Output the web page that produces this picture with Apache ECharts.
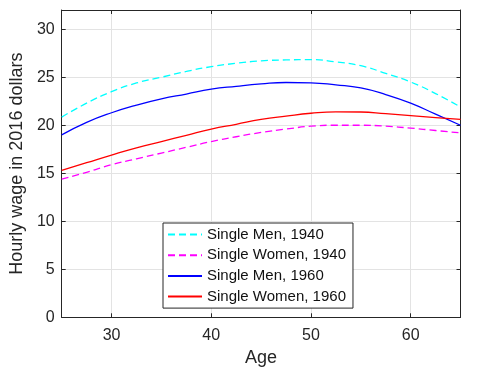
<!DOCTYPE html>
<html>
<head>
<meta charset="utf-8">
<script src="https://cdn.jsdelivr.net/npm/echarts@6/dist/echarts.min.js"></script>
<style>html,body{margin:0;padding:0;background:#fff}#c{width:480px;height:376px}</style>
</head>
<body>
<div id="c"></div>
<script>
var ages = [25, 27.5, 30, 32.5, 35, 37.5, 40, 42.5, 45, 47.5, 50, 52.5, 55, 57.5, 60, 62.5, 65];
var menW1940 = [20.85, 22.3, 23.5, 24.4, 25.0, 25.6, 26.1, 26.45, 26.7, 26.8, 26.83, 26.6, 26.2, 25.4, 24.5, 23.3, 21.9];
var womenW1940 = [14.4, 15.1, 15.9, 16.5, 17.1, 17.7, 18.3, 18.8, 19.25, 19.6, 19.9, 20.0, 20.0, 19.9, 19.7, 19.45, 19.2];
var menW1960 = [19.0, 20.3, 21.3, 22.1, 22.75, 23.25, 23.75, 24.05, 24.3, 24.45, 24.42, 24.2, 23.88, 23.2, 22.3, 21.15, 20.0];
var womenW1960 = [15.3, 16.1, 16.9, 17.65, 18.3, 18.95, 19.6, 20.1, 20.6, 20.95, 21.25, 21.4, 21.38, 21.2, 21.0, 20.8, 20.6];
var seriesNames = ['Single Men, 1940', 'Single Women, 1940', 'Single Men, 1960', 'Single Women, 1960'];
var xTicks = [30, 40, 50, 60];
var yTicks = [0, 5, 10, 15, 20, 25, 30];

var FONT = 'Liberation Sans, Arial, sans-serif';
var AX = '#262626';
function pairs(v) { return ages.map(function (a, i) { return [a, v[i]]; }); }
function mk(name, data, color, dashed) {
  return {
    name: name, type: 'line', data: pairs(data), symbol: 'none', smooth: 0.5,
    lineStyle: { color: color, width: 1.3, type: dashed ? [7, 4] : 'solid' },
    itemStyle: { color: color }
  };
}
var chart = echarts.init(document.getElementById('c'), null, { renderer: 'canvas' });
chart.setOption({
  animation: false,
  textStyle: { fontFamily: FONT },
  grid: { left: 58, right: 19.5, top: 10, bottom: 58.7, containLabel: false },
  legend: {
    orient: 'vertical', left: 163, top: 223,
    backgroundColor: '#fff', borderColor: AX, borderWidth: 1,
    padding: [4, 7, 4, 4], itemWidth: 34, itemHeight: 15, itemGap: 5.7,
    itemStyle: { opacity: 0 },
    textStyle: { fontFamily: FONT, fontSize: 15, color: '#111' },
    data: seriesNames
  },
  xAxis: [{
    type: 'value', min: 25, max: 65, position: 'bottom',
    name: 'Age', nameLocation: 'middle', nameGap: 32,
    nameTextStyle: { fontFamily: FONT, fontSize: 18, color: AX },
    axisLine: { show: true, onZero: false, lineStyle: { color: AX, width: 1 } },
    axisTick: { show: true, inside: true, length: 4, customValues: xTicks, lineStyle: { color: AX } },
    axisLabel: { customValues: xTicks, fontFamily: FONT, fontSize: 16, color: AX, margin: 10 },
    splitLine: { show: true, lineStyle: { color: '#e3e3e3', width: 1 } }
  }, {
    type: 'value', min: 25, max: 65, position: 'top',
    axisLine: { show: true, onZero: false, lineStyle: { color: AX, width: 1 } },
    axisTick: { show: true, inside: true, length: 4, customValues: xTicks, lineStyle: { color: AX } },
    axisLabel: { show: false }, splitLine: { show: false }
  }],
  yAxis: [{
    type: 'value', min: 0, max: 32, position: 'left',
    name: 'Hourly wage in 2016 dollars', nameLocation: 'middle', nameGap: 31,
    nameTextStyle: { fontFamily: FONT, fontSize: 18, color: AX },
    axisLine: { show: true, onZero: false, lineStyle: { color: AX, width: 1 } },
    axisTick: { show: true, inside: true, length: 4, customValues: yTicks, lineStyle: { color: AX } },
    axisLabel: { customValues: yTicks, fontFamily: FONT, fontSize: 16, color: AX, margin: 7 },
    splitLine: { show: true, lineStyle: { color: '#e3e3e3', width: 1 } }
  }, {
    type: 'value', min: 0, max: 32, position: 'right',
    axisLine: { show: true, onZero: false, lineStyle: { color: AX, width: 1 } },
    axisTick: { show: true, inside: true, length: 4, customValues: yTicks, lineStyle: { color: AX } },
    axisLabel: { show: false }, splitLine: { show: false }
  }],
  series: [
    mk(seriesNames[0], menW1940, '#00ffff', true),
    mk(seriesNames[1], womenW1940, '#ff00ff', true),
    mk(seriesNames[2], menW1960, '#0000ff', false),
    mk(seriesNames[3], womenW1960, '#ff0000', false)
  ]
});
</script>
</body>
</html>
